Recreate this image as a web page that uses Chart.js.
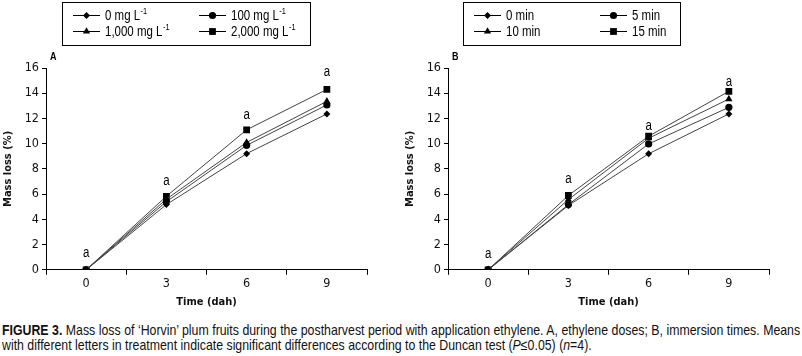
<!DOCTYPE html>
<html>
<head>
<meta charset="utf-8">
<script src="https://cdn.jsdelivr.net/npm/chart.js@4/dist/chart.umd.min.js"></script>
<style>
  body { margin: 0; background: #fff; width: 802px; height: 356px; overflow: hidden; }
  .panel { position: absolute; top: 0; width: 400px; height: 312px; }
  #caption {
    position: absolute; left: 2px; top: 323px; width: 939px;
    transform: scaleX(0.85); transform-origin: 0 0;
    font-family: 'Liberation Sans', Arial, sans-serif;
    font-size: 14.5px; line-height: 15px; color: #111;
  }
  #caption .l1 { text-align: justify; text-align-last: justify; white-space: nowrap; }
  #caption .l2 { text-align: left; white-space: nowrap; }
</style>
</head>
<body>
<div class="panel" style="left:0"><canvas id="chartA"></canvas></div>
<div class="panel" style="left:402px"><canvas id="chartB"></canvas></div>
<div id="caption">
  <div class="l1"><b>FIGURE 3.</b> Mass loss of ‘Horvin’ plum fruits during the postharvest period with application ethylene. A, ethylene doses; B, immersion times. Means</div>
  <div class="l2">with different letters in treatment indicate significant differences according to the Duncan test (<i>P</i>≤0.05) (<i>n</i>=4).</div>
</div>
<script>
var FONT = "'DejaVu Sans Condensed', 'Liberation Sans', sans-serif";
var NARROW = "'Liberation Sans', Arial, sans-serif"; // squeezed by hand to look like Arial Narrow

// shared x categories (days after harvest)
var days = ['0', '3', '6', '9'];
var yTicks = [0, 2, 4, 6, 8, 10, 12, 14, 16];

// panel A - ethylene doses
var doseLabels = ['0 mg L', '100 mg L', '1,000 mg L', '2,000 mg L'];
var dose0 = [0, 5.17, 9.21, 12.36];
var dose100 = [0, 5.4, 9.87, 13.07];
var dose1000 = [0, 5.6, 10.1, 13.36];
var dose2000 = [0, 5.83, 11.1, 14.3];
var lettersA = ['a', 'a', 'a', 'a'];
var letterYA = [1.35, 7.0, 12.3, 15.7];

// panel B - immersion times
var timeLabels = ['0 min', '5 min', '10 min', '15 min'];
var time0 = [0, 5.1, 9.2, 12.36];
var time5 = [0, 5.17, 9.98, 12.88];
var time10 = [0, 5.57, 10.43, 13.54];
var time15 = [0, 5.89, 10.59, 14.15];
var lettersB = ['a', 'a', 'a', 'a'];
var letterYB = [1.27, 7.2, 11.4, 14.9];

var styles = [
    { pointStyle: 'rectRot', radius: 3.5 },
    { pointStyle: 'circle', radius: 3.6 },
    { pointStyle: 'triangle', radius: 4.2 },
    { pointStyle: 'rect', radius: 4.8 }
];

function makeDatasets(labels, series) {
    return series.map(function (s, i) {
        return {
            label: labels[i],
            data: s,
            borderColor: '#444',
            borderWidth: 1,
            backgroundColor: '#000',
            pointBackgroundColor: '#000',
            pointBorderColor: '#000',
            pointBorderWidth: 0,
            pointStyle: styles[i].pointStyle,
            pointRadius: styles[i].radius,
            tension: 0
        };
    });
}

// draw text squeezed horizontally
function narrowText(ctx, text, x, y, size, bold, align) {
    ctx.save();
    ctx.font = (bold ? 'bold ' : '') + size + 'px ' + NARROW;
    ctx.textAlign = align || 'left';
    ctx.translate(x, y);
    ctx.scale(0.82, 1);
    ctx.fillText(text, 0, 0);
    var w = ctx.measureText(text).width * 0.82;
    ctx.restore();
    return w;
}

// legend box + panel letter + significance letters
var extras = {
    id: 'extras',
    afterDraw: function (chart) {
        var ctx = chart.ctx;
        var o = chart.options.plugins.extras;
        var area = chart.chartArea;
        ctx.save();
        ctx.fillStyle = '#000';
        ctx.textBaseline = 'middle';

        // box
        ctx.strokeStyle = '#000';
        ctx.lineWidth = 1;
        ctx.strokeRect(o.boxLeft + 0.5, 2.5, o.boxWidth, 43);

        chart.data.datasets.forEach(function (ds, i) {
            var col = i % 2, row = Math.floor(i / 2);
            var lx = o.boxLeft + (col === 0 ? 11 : 137);
            var ly = row === 0 ? 15 : 31;
            ctx.beginPath();
            ctx.moveTo(lx, ly + 0.5);
            ctx.lineTo(lx + 27, ly + 0.5);
            ctx.stroke();
            Chart.helpers.drawPoint(ctx, {
                pointStyle: ds.pointStyle,
                radius: ds.pointRadius,
                rotation: 0,
                borderWidth: 0
            }, lx + 13.5, ly + 0.5);
            var tx = lx + 32;
            var w = narrowText(ctx, ds.label, tx, ly + 1, 14, false);
            if (o.superscript) {
                narrowText(ctx, '-1', tx + w + 0.5, ly - 3, 9, false);
            }
        });

        // panel letter
        narrowText(ctx, o.panel, area.left + 4, 57, 11, true);

        // significance letters
        var xs = chart.scales.x, ys = chart.scales.y;
        o.letters.forEach(function (t, i) {
            narrowText(ctx, t, xs.getPixelForValue(i), ys.getPixelForValue(o.letterY[i]), 14, false, 'center');
        });
        ctx.restore();
    }
};

function makeChart(id, labels, series, panel, letters, letterY, boxLeft, boxWidth, sup) {
    return new Chart(document.getElementById(id), {
        type: 'line',
        data: { labels: days, datasets: makeDatasets(labels, series) },
        options: {
            responsive: false,
            animation: false,
            layout: { padding: { top: 68, right: 33, bottom: 3, left: 0 } },
            plugins: {
                legend: { display: false },
                tooltip: { enabled: false },
                extras: {
                    panel: panel, letters: letters, letterY: letterY,
                    boxLeft: boxLeft, boxWidth: boxWidth, superscript: sup
                }
            },
            scales: {
                x: {
                    offset: true,
                    grid: { offset: true, drawOnChartArea: false, drawTicks: true, tickLength: 5, color: '#000' },
                    border: { color: '#000', width: 1 },
                    ticks: { color: '#111', font: { family: FONT, size: 12.5 }, padding: 1 },
                    title: { display: true, text: 'Time (dah)', color: '#111', font: { family: FONT, size: 11, weight: 'bold' }, padding: { top: 4, bottom: 0 } }
                },
                y: {
                    min: 0, max: 16,
                    afterBuildTicks: function (axis) {
                        axis.ticks = yTicks.map(function (v) { return { value: v }; });
                    },
                    afterFit: function (axis) { axis.width = 46; },
                    grid: { drawOnChartArea: false, drawTicks: true, tickLength: 4, color: '#000' },
                    border: { color: '#000', width: 1 },
                    ticks: { color: '#111', font: { family: FONT, size: 12.5 }, padding: 3 },
                    title: { display: true, text: 'Mass loss (%)', color: '#111', font: { family: FONT, size: 11, weight: 'bold' }, padding: { top: 2, bottom: 3 } }
                }
            }
        },
        plugins: [extras]
    });
}

function sizeCanvas(id) {
    var c = document.getElementById(id);
    c.width = 400; c.height = 312;
    c.style.width = '400px'; c.style.height = '312px';
}
sizeCanvas('chartA');
sizeCanvas('chartB');

makeChart('chartA', doseLabels, [dose0, dose100, dose1000, dose2000], 'A', lettersA, letterYA, 62, 248, true);
makeChart('chartB', timeLabels, [time0, time5, time10, time15], 'B', lettersB, letterYB, 61, 217, false);
</script>
</body>
</html>
